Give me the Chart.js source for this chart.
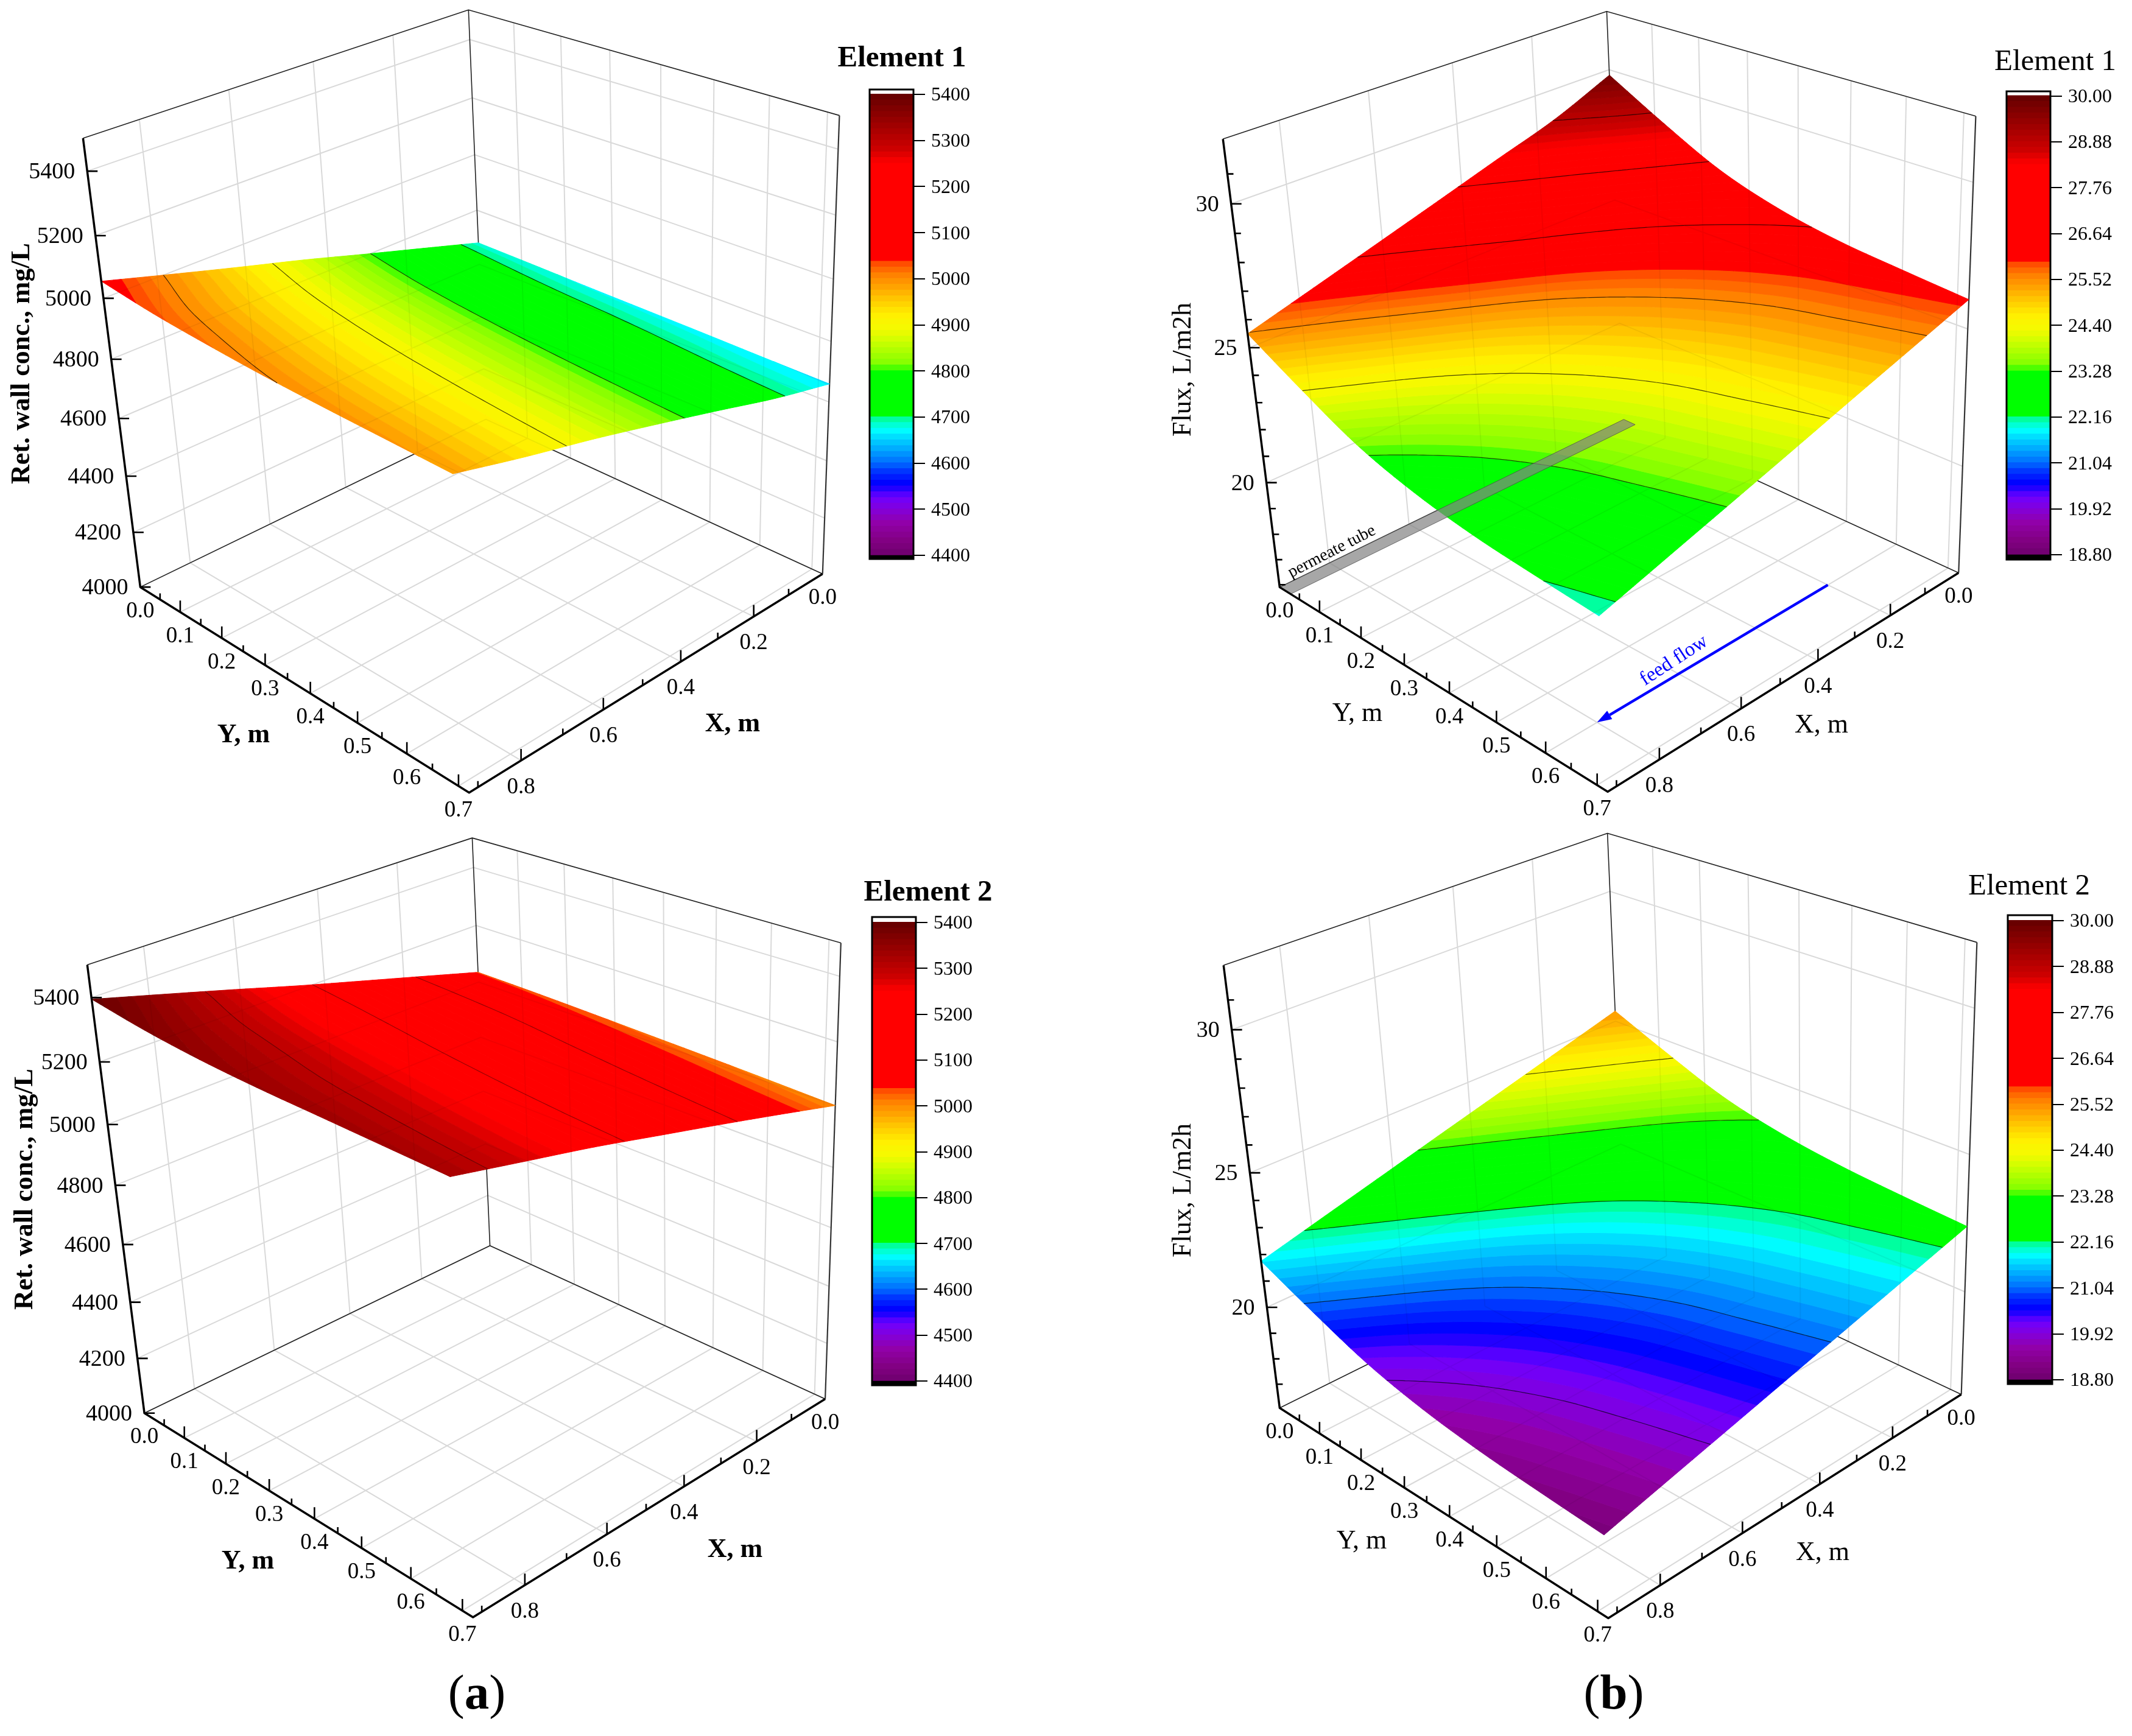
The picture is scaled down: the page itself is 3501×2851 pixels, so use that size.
<!DOCTYPE html>
<html><head><meta charset="utf-8">
<style>html,body{margin:0;padding:0;background:#fff}body{position:relative;width:3501px;height:2851px;overflow:hidden}canvas{position:absolute}</style>
<script src="https://cdn.jsdelivr.net/npm/chart.js@4"></script>
</head><body>
<script>
// ---------- values ----------
const xNodes = [0, 0.153, 0.307, 0.46, 0.613, 0.767, 0.92];
const yNodes = [0, 0.12, 0.24, 0.36, 0.48, 0.6, 0.72];
// rows: xNodes, columns: yNodes
const concElement1 = [
 [4680,4677,4673,4670,4667,4663,4660],
 [4743,4733,4727,4723,4718,4713,4709],
 [4806,4795,4787,4781,4776,4772,4768],
 [4870,4856,4847,4840,4834,4829,4825],
 [4930,4914,4903,4895,4889,4884,4880],
 [4992,4970,4957,4947,4940,4935,4930],
 [5055,5030,5014,5002,4995,4990,4985]];
const concElement2 = [
 [5035,5032,5027,5021,5015,5008,5000],
 [5094,5090,5085,5078,5071,5064,5058],
 [5153,5148,5142,5134,5127,5121,5115],
 [5212,5204,5196,5188,5181,5175,5170],
 [5274,5260,5250,5243,5236,5230,5225],
 [5335,5315,5303,5293,5286,5280,5275],
 [5395,5368,5350,5340,5335,5330,5325]];
const fluxElement1 = [
 [29.8,28.63,27.58,26.9,26.48,26.24,26.03],
 [28.9,27.88,26.89,26.22,25.8,25.57,25.36],
 [28.22,27.2,26.2,25.54,25.13,24.89,24.69],
 [27.53,26.52,25.51,24.86,24.45,24.22,24.01],
 [26.85,25.82,24.82,24.17,23.77,23.54,23.34],
 [26.17,25.12,24.13,23.49,23.1,22.87,22.67],
 [25.5,24.42,23.44,22.81,22.42,22.19,22.0]];
const fluxElement2 = [
 [25.4,24.48,23.64,23.11,22.78,22.58,22.42],
 [24.79,23.88,23.06,22.53,22.2,22.01,21.85],
 [24.18,23.29,22.47,21.95,21.63,21.44,21.28],
 [23.58,22.69,21.89,21.37,21.05,20.87,20.71],
 [22.97,22.09,21.3,20.79,20.48,20.29,20.14],
 [22.36,21.5,20.72,20.21,19.9,19.72,19.57],
 [21.75,20.9,20.13,19.63,19.33,19.15,19.0]];
const concBarTicks = [4400,4500,4600,4700,4800,4900,5000,5100,5200,5300,5400];
const fluxBarTicks = [18.80,19.92,21.04,22.16,23.28,24.40,25.52,26.64,27.76,28.88,30.00];
const concZTicks = [4000,4200,4400,4600,4800,5000,5200,5400];
const fluxZTicks = [20,25,30];
const fluxZMinor = [16,17,18,19,21,22,23,24,26,27,28,29,31];
const xMajorTicks = [0.0,0.2,0.4,0.6,0.8];
const xMinorTicks = [0.1,0.3,0.5,0.7,0.9];
const yMajorTicks = [0.0,0.1,0.2,0.3,0.4,0.5,0.6,0.7];
const yMinorTicks = [0.05,0.15,0.25,0.35,0.45,0.55,0.65];
const tubeXRange = [0,0.92];
const tubeYRange = [0,0.028];
const feedFlowX = [0.2,0.8];
const feedFlowY = [0.6,0.6];
const X_MAX = 0.92, Y_MAX = 0.72;

// ---------- colour scale ----------
const BAND_COUNT = 80;
const colorStops = [
 [0,110,0,110],[.03,130,0,130],[.07,145,0,170],[.1,130,0,220],[.125,110,0,255],[.145,30,0,255],[.155,0,0,255],
 [.18,0,50,255],[.2,0,110,255],[.23,0,170,255],[.255,0,220,255],[.27,0,255,255],[.285,0,255,200],[.30,0,255,130],
 [.305,0,255,0],[.40,0,255,0],[.41,125,255,0],[.46,200,255,0],[.49,245,250,0],[.52,255,240,0],[.55,255,205,0],
 [.58,255,165,0],[.61,255,125,0],[.635,255,70,0],[.64,255,0,0],[.85,255,0,0],[.88,205,0,0],[.92,170,0,0],[.96,135,0,0],[1,100,0,0]];
function colorAt(t){
  for(let i=1;i<colorStops.length;i++){
    if(t<=colorStops[i][0]){
      const a=colorStops[i-1],b=colorStops[i],f=(t-a[0])/(b[0]-a[0]);
      return `rgb(${Math.round(a[1]+(b[1]-a[1])*f)},${Math.round(a[2]+(b[2]-a[2])*f)},${Math.round(a[3]+(b[3]-a[3])*f)})`;
    }
  }
  return 'rgb(100,0,0)';
}

// ---------- custom dataset type: path through the chart's scales ----------
class PathController extends Chart.ScatterController {
  draw(){
    const ds=this.getDataset(),ctx=this.chart.ctx,m=this.getMeta(),xs=m.xScale,ys=m.yScale;
    ctx.save();
    if(ds.clipOutline){
      ctx.beginPath();
      ds.clipOutline.forEach((p,i)=>{const a=xs.getPixelForValue(p.x),b=ys.getPixelForValue(p.y);i?ctx.lineTo(a,b):ctx.moveTo(a,b);});
      ctx.closePath();ctx.clip();
    }
    ctx.beginPath();
    let pen=false;
    const n=m._parsed.length;
    for(let i=0;i<n;i++){
      const p=this.getParsed(i);
      if(p.x==null||p.y==null||isNaN(p.x)||isNaN(p.y)){if(pen&&ds.pathFill)ctx.closePath();pen=false;continue;}
      const a=xs.getPixelForValue(p.x),b=ys.getPixelForValue(p.y);
      if(pen)ctx.lineTo(a,b);else ctx.moveTo(a,b);
      pen=true;
    }
    if(pen&&ds.pathFill)ctx.closePath();
    if(ds.pathFill){ctx.fillStyle=ds.pathFill;ctx.fill();}
    if(ds.pathStroke){ctx.strokeStyle=ds.pathStroke;ctx.lineWidth=ds.pathWidth||1;ctx.lineJoin='round';ctx.lineCap=ds.pathCap||'butt';ctx.stroke();}
    ctx.restore();
  }
}
PathController.id='surfacePath';
PathController.defaults=Object.assign({},Chart.ScatterController.defaults);
Chart.register(PathController);

// ---------- camera fitted to the box's corners ----------
function fitCamera(c,zr){
  const [z0,z1]=zr;
  const pts=[[1,0,0,c.L],[1,1,0,c.F],[0,1,0,c.R],[0,0,0,c.B],[1,0,1,c.TL],[0,0,1,c.TB],[0,1,1,c.TR]];
  const rows=[],rhs=[];
  for(const [x,y,z,[u0,v0]] of pts){
    const u=u0/1000,v=v0/1000;
    rows.push([x,y,z,1,0,0,0,0,-u*x,-u*y,-u*z]);rhs.push(u);
    rows.push([0,0,0,0,x,y,z,1,-v*x,-v*y,-v*z]);rhs.push(v);
  }
  const n=11,A=[];
  for(let i=0;i<n;i++){A.push(new Array(n+1).fill(0));
    for(let j=0;j<n;j++)for(let r=0;r<rows.length;r++)A[i][j]+=rows[r][i]*rows[r][j];
    for(let r=0;r<rows.length;r++)A[i][n]+=rows[r][i]*rhs[r];}
  for(let i=0;i<n;i++){
    let b=i;for(let r=i+1;r<n;r++)if(Math.abs(A[r][i])>Math.abs(A[b][i]))b=r;
    [A[i],A[b]]=[A[b],A[i]];
    for(let r=0;r<n;r++)if(r!==i){const f=A[r][i]/A[i][i];for(let k=i;k<=n;k++)A[r][k]-=f*A[i][k];}
  }
  const p=A.map((r,i)=>r[n]/r[i]);
  return (X,Y,Z)=>{
    const x=X/X_MAX,y=Y/Y_MAX,z=(Z-z0)/(z1-z0);
    const w=p[8]*x+p[9]*y+p[10]*z+1;
    return {x:1000*(p[0]*x+p[1]*y+p[2]*z+p[3])/w,y:1000*(p[4]*x+p[5]*y+p[6]*z+p[7])/w};
  };
}

const BRK={x:null,y:null};
const FAM='"Liberation Serif"';
const GRID='#d9d9d9';

function surfaceSampler(grid){
  const nr=grid.length,nc=grid[0].length;
  const g=(i,j)=>{
    if(i<0)return 2*g(0,j)-g(1,j);
    if(i>=nr)return 2*g(nr-1,j)-g(nr-2,j);
    if(j<0)return 2*g(i,0)-g(i,1);
    if(j>=nc)return 2*g(i,nc-1)-g(i,nc-2);
    return grid[i][j];
  };
  const cr=(a,b,c,d,t)=>b+.5*t*(c-a+t*(2*a-5*b+4*c-d+t*(3*(b-c)+d-a)));
  return (s,t)=>{
    const i=Math.min(Math.floor(s),nr-2),j=Math.min(Math.floor(t),nc-2),fs=s-i,ft=t-j;
    const col=[-1,0,1,2].map(di=>cr(g(i+di,j-1),g(i+di,j),g(i+di,j+1),g(i+di,j+2),ft));
    return cr(col[0],col[1],col[2],col[3],fs);
  };
}
function lerpV(a,b,f){return {X:a.X+(b.X-a.X)*f,Y:a.Y+(b.Y-a.Y)*f,Z:a.Z+(b.Z-a.Z)*f};}
function clipPoly(poly,lim,above){
  const out=[];
  for(let i=0;i<poly.length;i++){
    const a=poly[i],b=poly[(i+1)%poly.length];
    const ia=above?a.Z>=lim:a.Z<=lim,ib=above?b.Z>=lim:b.Z<=lim;
    if(ia)out.push(a);
    if(ia!==ib)out.push(lerpV(a,b,(lim-a.Z)/(b.Z-a.Z)));
  }
  return out;
}

function makePanel(cfg){
  const [rx,ry,rw,rh]=cfg.rect,[z0,z1]=cfg.zRange;
  const pr=fitCamera(cfg.corners,cfg.zRange);
  const layers=[],texts=[];
  const seg=(arr,...pts)=>{pts.forEach(p=>arr.push(p));arr.push(BRK);};
  // grid
  const gridPts=[];
  for(const X of [0.2,0.4,0.6,0.8]){
    seg(gridPts,pr(X,0,z0),pr(X,Y_MAX,z0));
    seg(gridPts,pr(X,0,z0),pr(X,0,z1));
  }
  for(const Y of [0.1,0.2,0.3,0.4,0.5,0.6,0.7]){
    seg(gridPts,pr(0,Y,z0),pr(X_MAX,Y,z0));
    seg(gridPts,pr(0,Y,z0),pr(0,Y,z1));
  }
  for(const Z of cfg.zTicks) seg(gridPts,pr(X_MAX,0,Z),pr(0,0,Z),pr(0,Y_MAX,Z));
  layers.push({data:gridPts,pathStroke:GRID,pathWidth:2});
  // thin frame
  const c={L:pr(X_MAX,0,z0),F:pr(X_MAX,Y_MAX,z0),R:pr(0,Y_MAX,z0),B:pr(0,0,z0),TL:pr(X_MAX,0,z1),TB:pr(0,0,z1),TR:pr(0,Y_MAX,z1)};
  const frame=[];
  seg(frame,c.TL,c.TB,c.TR);seg(frame,c.TB,c.B);seg(frame,c.L,c.B,c.R);
  layers.push({data:frame,pathStroke:'#222',pathWidth:1.6});
  const right=[];seg(right,c.TR,c.R);
  layers.push({data:right,pathStroke:'#333',pathWidth:2.2});
  // surface
  const lo=cfg.barTicks[0],hi=cfg.barTicks[cfg.barTicks.length-1],step=(hi-lo)/BAND_COUNT;
  const sample=surfaceSampler(cfg.values);
  const SUB=6,nr=cfg.values.length-1,nc=cfg.values[0].length-1;
  const vert=(a,b)=>{
    const s=a/SUB,t=b/SUB,i=Math.min(Math.floor(s),nr-1),j=Math.min(Math.floor(t),nc-1);
    return {X:xNodes[i]+(xNodes[i+1]-xNodes[i])*(s-i),Y:yNodes[j]+(yNodes[j+1]-yNodes[j])*(t-j),Z:sample(s,t)};
  };
  const verts=[];
  for(let a=0;a<=nr*SUB;a++){verts.push([]);for(let b=0;b<=nc*SUB;b++)verts[a].push(vert(a,b));}
  const bandPts=Array.from({length:BAND_COUNT},()=>[]);
  const contourPts=[];
  const tri=(A,B,C)=>{
    const T=[A,B,C],mn=Math.min(A.Z,B.Z,C.Z),mx=Math.max(A.Z,B.Z,C.Z);
    const i0=Math.max(0,Math.floor((mn-lo)/step)),i1=Math.min(BAND_COUNT-1,Math.floor((mx-lo)/step));
    for(let i=i0;i<=i1;i++){
      let q=T;
      if(i>0)q=clipPoly(q,lo+i*step,true);
      if(q.length&&i<BAND_COUNT-1)q=clipPoly(q,lo+(i+1)*step,false);
      if(q.length>2){q.forEach(v=>bandPts[i].push(pr(v.X,v.Y,v.Z)));bandPts[i].push(BRK);}
    }
    for(const L of cfg.barTicks){
      if(L<mn||L>mx)continue;
      const cross=[];
      for(let e=0;e<3;e++){const a=T[e],b=T[(e+1)%3];
        if((a.Z<L)!==(b.Z<L))cross.push(lerpV(a,b,(L-a.Z)/(b.Z-a.Z)));}
      if(cross.length===2)seg(contourPts,pr(cross[0].X,cross[0].Y,L),pr(cross[1].X,cross[1].Y,L));
    }
  };
  for(let a=0;a<nr*SUB;a++)for(let b=0;b<nc*SUB;b++){
    tri(verts[a][b],verts[a+1][b],verts[a+1][b+1]);
    tri(verts[a][b],verts[a+1][b+1],verts[a][b+1]);
  }
  bandPts.forEach((pts,i)=>{
    if(pts.length){const col=colorAt((i+.5)/BAND_COUNT);layers.push({data:pts,pathFill:col,pathStroke:col,pathWidth:1});}
  });
  // outline of the surface, for the faint see-through grid
  const outline=[];
  const A=nr*SUB,Bn=nc*SUB;
  for(let b=0;b<=Bn;b++)outline.push(verts[0][b]);
  for(let a=1;a<=A;a++)outline.push(verts[a][Bn]);
  for(let b=Bn-1;b>=0;b--)outline.push(verts[A][b]);
  for(let a=A-1;a>0;a--)outline.push(verts[a][0]);
  layers.push({data:gridPts,pathStroke:'rgba(0,0,0,0.05)',pathWidth:2,clipOutline:outline.map(v=>pr(v.X,v.Y,v.Z))});
  layers.push({data:contourPts,pathStroke:`rgba(0,0,0,${cfg.contourAlpha||0.7})`,pathWidth:1.2});
  // extras
  if(cfg.tube){
    const t=[pr(tubeXRange[0],tubeYRange[0],z0),pr(tubeXRange[0],tubeYRange[1],z0),pr(tubeXRange[1],tubeYRange[1],z0),pr(tubeXRange[1],tubeYRange[0],z0),BRK];
    layers.push({data:t,pathFill:'rgba(130,130,130,0.7)',pathStroke:'rgba(70,70,70,0.7)',pathWidth:1});
    texts.push({t:'permeate tube',x:2187,y:906,font:`28px ${FAM}`,angle:-27.4,align:'center'});
    const s=pr(feedFlowX[0],feedFlowY[0],z0),e=pr(feedFlowX[1],feedFlowY[1],z0);
    const d=Math.hypot(e.x-s.x,e.y-s.y),ux=(e.x-s.x)/d,uy=(e.y-s.y)/d,hl=24,hw=8;
    const base={x:e.x-ux*hl,y:e.y-uy*hl};
    layers.push({data:[s,base],pathStroke:'#0000ff',pathWidth:4.5});
    layers.push({data:[e,{x:base.x-uy*hw,y:base.y+ux*hw},{x:base.x+uy*hw,y:base.y-ux*hw},BRK],pathFill:'#0000ff'});
    texts.push({t:'feed flow',x:2749,y:1085,font:`33px ${FAM}`,angle:-33,align:'center',color:'#0000ff'});
  }
  // axes and ticks
  const axes=[];
  seg(axes,c.TL,c.L,c.F,c.R);
  layers.push({data:axes,pathStroke:'#000',pathWidth:3.5});
  const ticks=[];
  const tickLabelFont=`37px ${FAM}`;
  for(const Y of yMajorTicks){const p=pr(X_MAX,Y,z0);if(Y>0)seg(ticks,p,{x:p.x,y:p.y-19});
    texts.push({t:Y.toFixed(1),x:p.x,y:p.y+38,font:tickLabelFont,align:'center',dy:2});}
  for(const Y of yMinorTicks){const p=pr(X_MAX,Y,z0);seg(ticks,p,{x:p.x,y:p.y-10});}
  for(const X of xMajorTicks){const p=pr(X,Y_MAX,z0);if(X>0)seg(ticks,p,{x:p.x,y:p.y-19});
    texts.push({t:X.toFixed(1),x:p.x,y:p.y+(X>0?42:38),font:tickLabelFont,align:'center',dy:2});}
  for(const X of xMinorTicks){if(X<X_MAX){const p=pr(X,Y_MAX,z0);seg(ticks,p,{x:p.x,y:p.y-10});}}
  for(const Z of cfg.zTicks){const p=pr(X_MAX,0,Z);seg(ticks,p,{x:p.x+17,y:p.y});
    texts.push({t:String(Z),x:p.x-20,y:p.y,font:`38px ${FAM}`,align:'right',dy:2});}
  for(const Z of cfg.zMinor||[]){if(Z>z0){const p=pr(X_MAX,0,Z);seg(ticks,p,{x:p.x+10,y:p.y});}}
  layers.push({data:ticks,pathStroke:'#000',pathWidth:2.6});
  // titles
  const w=cfg.bold?'bold ':'';
  texts.push({t:cfg.zTitle,x:cfg.zTitlePos[0],y:cfg.zTitlePos[1],font:`${w}44px ${FAM}`,angle:-90,align:'center'});
  texts.push({t:'Y, m',x:cfg.yTitlePos[0],y:cfg.yTitlePos[1],font:`${w}44px ${FAM}`,align:'center',dy:2});
  texts.push({t:'X, m',x:cfg.xTitlePos[0],y:cfg.xTitlePos[1],font:`${w}44px ${FAM}`,align:'center',dy:2});
  texts.push({t:cfg.title,x:cfg.titlePos[0],y:cfg.titlePos[1],font:`${w}49px ${FAM}`,align:'center',dy:3});
  if(cfg.caption)texts.push({runs:[['(',`81px ${FAM}`],[cfg.caption[0],`bold 81px ${FAM}`],[')',`81px ${FAM}`]],x:cfg.caption[1],y:cfg.caption[2],dy:2});

  const cv=document.createElement('canvas');
  cv.width=rw;cv.height=rh;cv.style.left=rx+'px';cv.style.top=ry+'px';
  document.body.appendChild(cv);
  const textPlugin={id:'panelText',afterDraw(ch){
    const ctx=ch.ctx,xs=ch.scales.x,ys=ch.scales.y;
    for(const T of texts){
      ctx.save();
      ctx.translate(xs.getPixelForValue(T.x),ys.getPixelForValue(T.y)+(T.dy||0));
      if(T.angle)ctx.rotate(T.angle*Math.PI/180);
      ctx.fillStyle=T.color||'#000';ctx.textBaseline='middle';
      if(T.runs){
        let tot=0;T.runs.forEach(([s,f])=>{ctx.font=f;tot+=ctx.measureText(s).width;});
        let px=-tot/2;ctx.textAlign='left';
        T.runs.forEach(([s,f])=>{ctx.font=f;ctx.fillText(s,px,0);px+=ctx.measureText(s).width;});
      }else{
        ctx.font=T.font;ctx.textAlign=T.align||'left';ctx.fillText(T.t,0,0);
      }
      ctx.restore();
    }
  }};
  new Chart(cv.getContext('2d'),{
    type:'scatter',
    data:{datasets:layers.slice().reverse().map((l,i)=>Object.assign({type:'surfacePath',pointRadius:0,label:'layer'+i},l))},
    options:{responsive:false,animation:false,devicePixelRatio:1,events:[],
      layout:{padding:0,autoPadding:false},
      plugins:{legend:{display:false},tooltip:{enabled:false},title:{display:false}},
      scales:{x:{type:'linear',display:false,min:rx,max:rx+rw},y:{type:'linear',display:false,reverse:true,min:ry,max:ry+rh}}},
    plugins:[textPlugin]
  });
}

function makeColorbar(cb){
  const [bx,by,bw,bh]=cb.box,pad=30,axisW=125;
  const ticks=cb.ticks,lo=ticks[0],hi=ticks[ticks.length-1];
  const ppu=(cb.tickBottom-cb.tickTop)/(hi-lo);
  const yMax=hi+(cb.tickTop-by)/ppu,yMin=lo-((by+bh)-cb.tickBottom)/ppu;
  const step=(hi-lo)/BAND_COUNT;
  const sets=[{data:[[yMin,lo]],backgroundColor:'#000',grouped:false,barPercentage:1,categoryPercentage:1,borderWidth:0}];
  for(let i=0;i<BAND_COUNT;i++)sets.push({data:[[lo+i*step,lo+(i+1)*step]],backgroundColor:colorAt((i+.5)/BAND_COUNT),grouped:false,barPercentage:1,categoryPercentage:1,borderWidth:0,inflateAmount:1});
  const cv=document.createElement('canvas');
  cv.width=bw+pad+axisW;cv.height=bh+2*pad;cv.style.left=(bx-pad)+'px';cv.style.top=(by-pad)+'px';
  document.body.appendChild(cv);
  new Chart(cv.getContext('2d'),{
    type:'bar',
    data:{labels:[''],datasets:sets},
    options:{responsive:false,animation:false,devicePixelRatio:1,events:[],
      layout:{padding:{left:pad,top:pad,bottom:pad,right:0},autoPadding:false},
      plugins:{legend:{display:false},tooltip:{enabled:false}},
      scales:{
        x:{display:false},
        y:{position:'right',min:yMin,max:yMax,
           afterBuildTicks(s){s.ticks=ticks.map(v=>({value:v}));},
           afterFit(s){s.width=axisW;},
           grid:{drawOnChartArea:false,drawTicks:true,tickLength:19,color:'#000',lineWidth:2},
           border:{display:true,color:'#000',width:2},
           ticks:{autoSkip:false,maxRotation:0,padding:10,labelOffset:2,color:'#000',font:{family:'Liberation Serif',size:32},
             callback:v=>v.toFixed(cb.decimals)}}
      }},
    plugins:[{id:'barFrame',afterDraw(ch){const a=ch.chartArea,c=ch.ctx;c.save();c.strokeStyle='#000';c.lineWidth=3;c.strokeRect(a.left,a.top,a.right-a.left,a.bottom-a.top);c.restore();}}]
  });
}

const CONC_TITLE='Ret. wall conc., mg/L',FLUX_TITLE='Flux, L/m2h';
makePanel({rect:[0,0,1800,1372],values:concElement1,barTicks:concBarTicks,zRange:[4000,5500],zTicks:concZTicks,bold:true,
  corners:{L:[231,964],F:[770,1302],R:[1351.5,942],B:[797,689],TL:[136,227],TB:[770,16],TR:[1378,190]},
  zTitle:CONC_TITLE,zTitlePos:[37,597],yTitlePos:[400,1206],xTitlePos:[1203,1188],title:'Element 1',titlePos:[1481,93]});
makePanel({rect:[1800,0,1701,1372],values:fluxElement1,barTicks:fluxBarTicks,zRange:[15.9,32.15],zTicks:fluxZTicks,zMinor:fluxZMinor,tube:true,
  corners:{L:[2102.5,964],F:[2639,1301],R:[3217.6,939],B:[2665,690],TL:[2008,228],TB:[2639,18],TR:[3244,192]},
  zTitle:FLUX_TITLE,zTitlePos:[1943,607],yTitlePos:[2229,1170],xTitlePos:[2991,1189],title:'Element 1',titlePos:[3375,99]});
makePanel({rect:[0,1360,1800,1491],values:concElement2,barTicks:concBarTicks,zRange:[4000,5500],zTicks:concZTicks,bold:true,contourAlpha:0.4,
  corners:{L:[238,2321],F:[776,2656],R:[1356,2297],B:[803.5,2046],TL:[143,1584],TB:[776,1376],TR:[1380.5,1549]},
  zTitle:CONC_TITLE,zTitlePos:[42,1953],yTitlePos:[407,2563],xTitlePos:[1207,2544],title:'Element 2',titlePos:[1524,1463],caption:['a',783,2783]});
makePanel({rect:[1800,1360,1701,1491],values:fluxElement2,barTicks:fluxBarTicks,zRange:[16.05,32.15],zTicks:fluxZTicks,zMinor:fluxZMinor,
  corners:{L:[2102.5,2316.5],F:[2641,2654],R:[3221,2294.6],B:[2667,2026],TL:[2008,1584],TB:[2641,1371],TR:[3246,1546]},
  zTitle:FLUX_TITLE,zTitlePos:[1943,1955],yTitlePos:[2236,2529],xTitlePos:[2993,2548],title:'Element 2',titlePos:[3332,1453],caption:['b',2650,2783]});

makeColorbar({box:[1428,147,72,771],tickTop:155,tickBottom:912,ticks:concBarTicks,decimals:0});
makeColorbar({box:[3295,150,72,769],tickTop:157.6,tickBottom:911,ticks:fluxBarTicks,decimals:2});
makeColorbar({box:[1432,1506,72,769],tickTop:1515,tickBottom:2268,ticks:concBarTicks,decimals:0});
makeColorbar({box:[3297,1503,73,770],tickTop:1512,tickBottom:2266,ticks:fluxBarTicks,decimals:2});
</script>
</body></html>
